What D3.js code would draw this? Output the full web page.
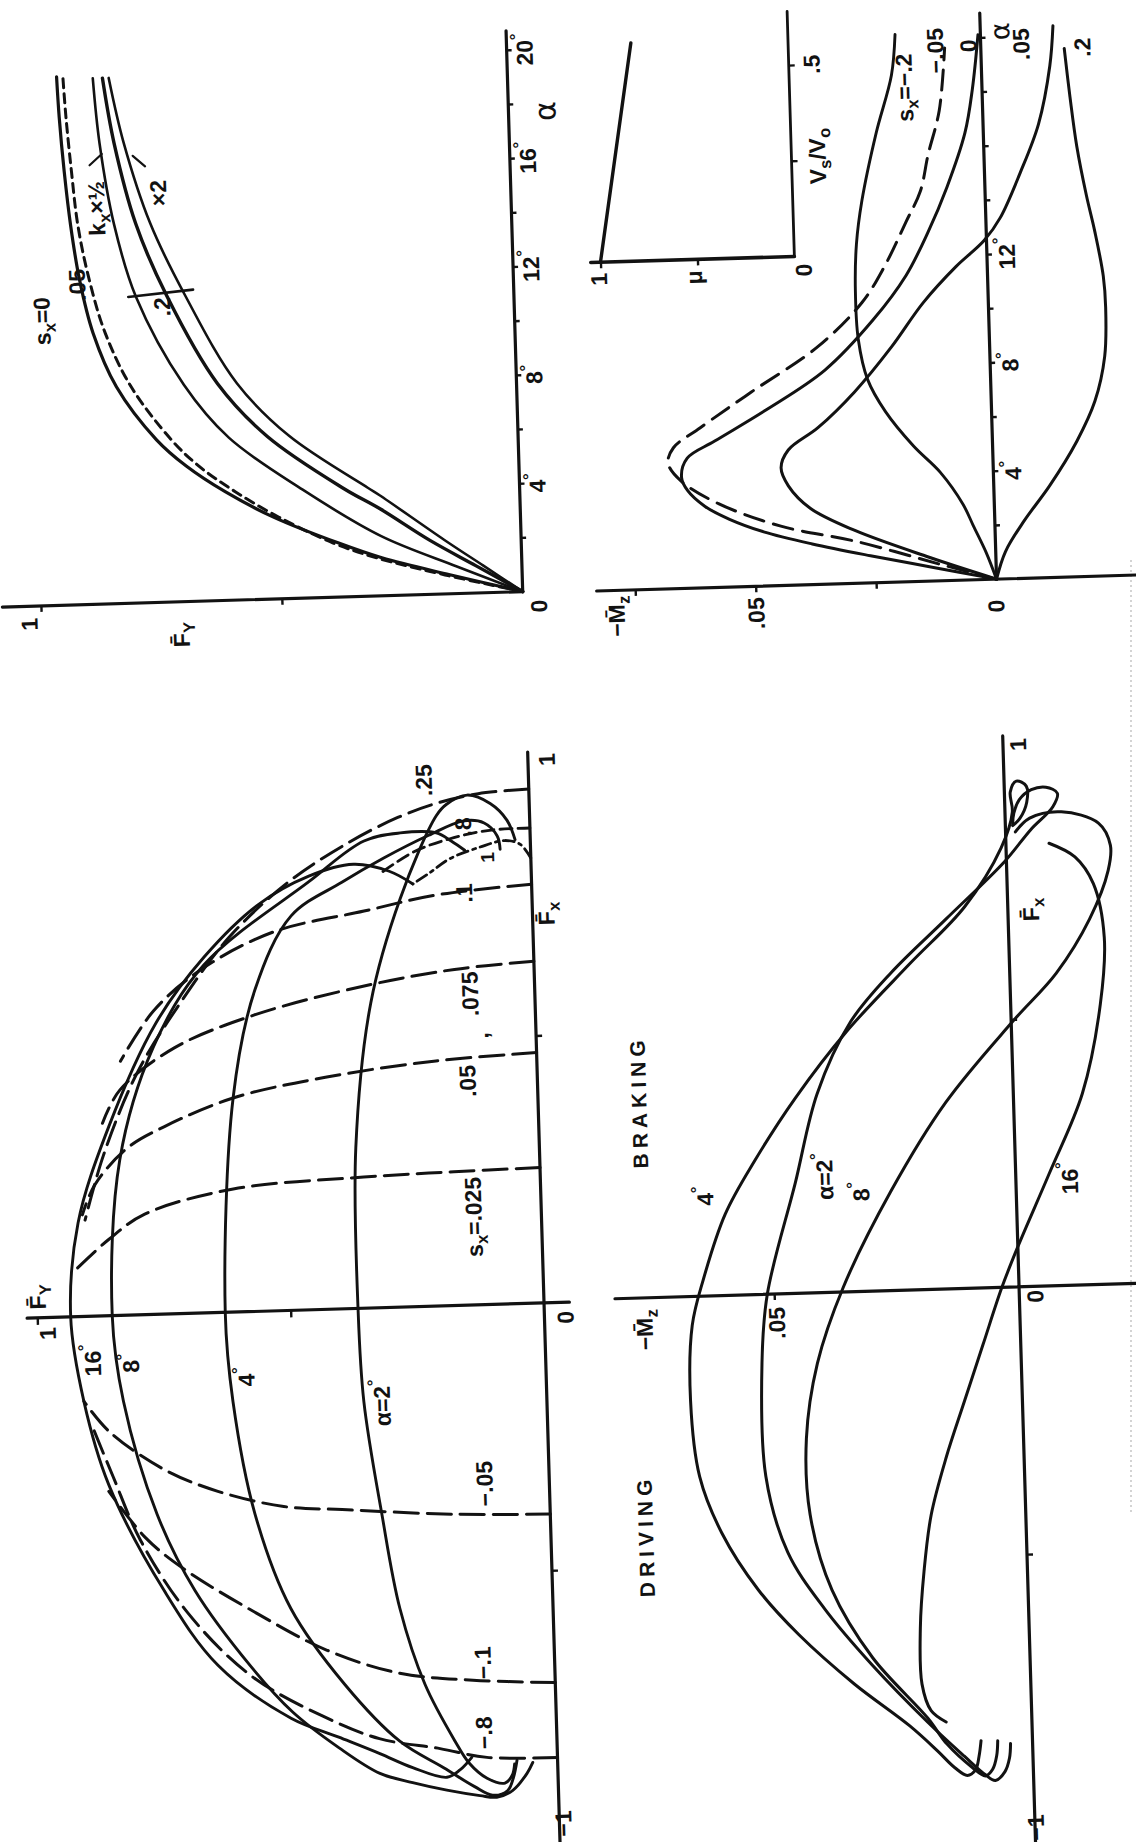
<!DOCTYPE html>
<html><head><meta charset="utf-8">
<script src="https://cdn.jsdelivr.net/npm/d3@7"></script>
<style>html,body{margin:0;padding:0;background:#fff}svg{display:block}</style>
</head><body>
<script>
// ===== Lateral force vs slip angle, pairs [alpha (deg), Fy] =====
const fyAlphaSx0   = [[0,0],[0.7,0.15],[1.4,0.29],[2,0.38],[3,0.51],[4,0.61],[5,0.69],[6,0.75],[8,0.83],[10,0.875],[12,0.9],[14,0.915],[16,0.925],[18,0.932],[19.5,0.935]];
const fyAlphaSx05  = [[0,0],[0.7,0.16],[1.4,0.3],[2,0.39],[3,0.5],[4,0.59],[5,0.665],[6,0.72],[8,0.8],[10,0.85],[12,0.88],[14,0.9],[16,0.91],[18,0.918],[19.5,0.922]];
const fyAlphaKxHalf= [[0,0],[1,0.135],[2.2,0.29],[4,0.45],[6,0.6],[8,0.69],[11.3,0.784],[14,0.825],[17,0.85],[19.4,0.86]];
const fyAlphaSx2   = [[0,0],[1,0.095],[2,0.19],[3.2,0.29],[4,0.365],[6,0.52],[8,0.62],[11.3,0.72],[14,0.78],[17,0.82],[19.4,0.84]];
const fyAlphaKx2   = [[0,0],[1,0.08],[2,0.16],[3.7,0.29],[4,0.315],[6,0.475],[8,0.58],[11.3,0.682],[14,0.75],[17,0.8],[19.4,0.827]];
const alphaTickLabels = [4, 8, 12, 16, 20];

// ===== Aligning torque vs slip angle, pairs [alpha (deg), -Mz] =====
const mzAlphaSxM2  = [[0,0],[1,0.002],[2,0.0045],[2.8,0.0065],[4,0.011],[5,0.0164],[6.3,0.022],[7.5,0.0255],[9,0.0272],[10.8,0.0275],[12.5,0.027],[14.1,0.0256],[16.6,0.0222],[18.7,0.0187],[20.2,0.0177]];
const mzAlphaSxM05 = [[0,0],[0.54,0.0103],[1.56,0.0292],[2.19,0.0444],[3.09,0.0572],[3.96,0.0648],[4.64,0.0674],[5.2,0.0662],[5.91,0.0605],[7.17,0.0497],[8.76,0.0357],[10.35,0.0262],[11.63,0.0214],[13.27,0.0166],[14.4,0.0134],[15.72,0.0116],[17.35,0.009],[19.65,0.0075]];
const mzAlphaSx0   = [[0,0],[0.5,0.013],[1,0.026],[1.5,0.038],[2,0.048],[2.5,0.055],[3,0.06],[3.6,0.0635],[4.1,0.0647],[4.8,0.0634],[5.4,0.0576],[6.5,0.0467],[7.9,0.0343],[9.7,0.024],[11.3,0.0169],[12.9,0.012],[14.5,0.0079],[16.5,0.0038],[18.1,0.002],[20.1,0.0005]];
const mzAlphaSx05  = [[0,0],[0.89,0.014],[1.96,0.0292],[2.82,0.0382],[3.67,0.0426],[4.34,0.044],[4.99,0.0424],[5.78,0.0361],[7.06,0.0283],[8.67,0.0204],[10.28,0.0135],[11.57,0.0065],[12.5,0.0005],[13.33,-0.003],[14.96,-0.0074],[16.74,-0.0115],[18.87,-0.0142],[20.35,-0.0151]];
const mzAlphaSx2   = [[0,0],[1,-0.002],[2.1,-0.006],[3.39,-0.0116],[5,-0.0175],[6.46,-0.0215],[8.1,-0.0238],[9.9,-0.0243],[11.06,-0.024],[12.73,-0.0225],[14.05,-0.021],[15.88,-0.0193],[17.7,-0.0182],[19.5,-0.0173]];
const mzAlphaTickLabels = [4, 8, 12];

// ===== Friction vs sliding speed, pairs [Vs/Vo, mu] =====
const muSlip = [[0,1.0],[0.57,0.81]];

// ===== Friction ellipse, pairs [Fx, Fy] =====
const ellAlpha16 = [[-0.845,0.169],[-0.868,0.193],[-0.881,0.219],[-0.861,0.286],[-0.833,0.35],[-0.8,0.43],[-0.762,0.523],[-0.659,0.664],[-0.516,0.766],[-0.315,0.869],[-0.158,0.913],[0,0.934],[0.175,0.914],[0.353,0.848],[0.544,0.749],[0.665,0.65],[0.76,0.54],[0.81,0.44],[0.83,0.35],[0.815,0.28],[0.79,0.234]];
const ellAlpha8  = [[-0.858,0.049],[-0.878,0.061],[-0.909,0.09],[-0.921,0.122],[-0.917,0.155],[-0.905,0.22],[-0.889,0.287],[-0.87,0.351],[-0.82,0.43],[-0.75,0.52],[-0.662,0.6],[-0.518,0.705],[-0.374,0.775],[-0.16,0.835],[0,0.852],[0.291,0.828],[0.498,0.756],[0.65,0.651],[0.80,0.439],[0.873,0.328],[0.886,0.256],[0.884,0.185],[0.868,0.156],[0.85,0.13]];
const ellAlpha4  = [[-0.853,0.08],[-0.885,0.088],[-0.909,0.1],[-0.917,0.13],[-0.9,0.165],[-0.863,0.225],[-0.811,0.31],[-0.702,0.415],[-0.557,0.517],[-0.379,0.582],[-0.167,0.619],[0,0.629],[0.4,0.601],[0.6,0.552],[0.737,0.476],[0.797,0.374],[0.84,0.29],[0.88,0.2],[0.905,0.13],[0.9,0.09],[0.875,0.065],[0.85,0.06]];
const ellAlpha2  = [[-0.86,0.085],[-0.88,0.09],[-0.895,0.105],[-0.885,0.14],[-0.855,0.175],[-0.814,0.201],[-0.706,0.257],[-0.563,0.302],[-0.386,0.332],[-0.174,0.361],[0,0.367],[0.3,0.362],[0.57,0.324],[0.763,0.26],[0.916,0.184],[0.937,0.163],[0.953,0.122],[0.936,0.077],[0.904,0.045],[0.867,0.03]];
const ellSx025  = [[0.253,0],[0.25,0.17],[0.245,0.348],[0.23,0.606],[0.188,0.782],[0.143,0.854],[0.083,0.927]];
const ellSx05   = [[0.468,0],[0.458,0.199],[0.434,0.415],[0.4,0.601],[0.35,0.739],[0.312,0.813],[0.245,0.879],[0.19,0.905]];
const ellSx075  = [[0.639,0],[0.628,0.157],[0.602,0.336],[0.554,0.554],[0.497,0.714],[0.421,0.824],[0.36,0.86]];
const ellSx1    = [[0.783,0],[0.768,0.189],[0.742,0.332],[0.708,0.512],[0.641,0.658],[0.567,0.753],[0.475,0.821]];
const ellSx25   = [[0.961,0],[0.955,0.1],[0.94,0.18],[0.915,0.26],[0.87,0.36],[0.8,0.48],[0.7,0.6],[0.58,0.7],[0.45,0.79],[0.3,0.86],[0.18,0.9]];
const ellSx8    = [[0.888,0],[0.886,0.08],[0.872,0.16],[0.85,0.23],[0.81,0.3]];
const ellSxLock = [[0.832,0],[0.858,0.02],[0.866,0.05],[0.855,0.1],[0.835,0.16],[0.81,0.2],[0.79,0.234]];
const ellSxM05  = [[-0.395,0],[-0.39,0.188],[-0.375,0.41],[-0.366,0.525],[-0.334,0.654],[-0.29,0.759],[-0.216,0.865],[-0.158,0.913]];
const ellSxM1   = [[-0.71,0],[-0.701,0.162],[-0.684,0.306],[-0.637,0.448],[-0.562,0.588],[-0.474,0.73],[-0.416,0.8],[-0.328,0.869]];
const ellSxM8   = [[-0.85,0],[-0.846,0.139],[-0.827,0.231],[-0.805,0.35],[-0.76,0.46],[-0.68,0.6],[-0.56,0.72],[-0.42,0.81],[-0.3,0.86],[-0.2,0.9]];

// ===== Aligning torque vs longitudinal force, pairs [Fx, -Mz] =====
const mzFxAlpha2  = [[-0.853,0.0045],[-0.88,0.0048],[-0.905,0.0058],[-0.921,0.0078],[-0.91,0.0098],[-0.874,0.014],[-0.808,0.0213],[-0.699,0.0322],[-0.591,0.0416],[-0.483,0.0488],[-0.34,0.0528],[-0.128,0.0529],[0,0.0514],[0.207,0.045],[0.3725,0.04],[0.504,0.0328],[0.594,0.0242],[0.691,0.0127],[0.796,0.0003],[0.853,-0.0051],[0.895,-0.0098],[0.92,-0.0108],[0.932,-0.0085],[0.928,-0.0055],[0.91,-0.003],[0.885,-0.0018],[0.865,-0.0015]];
const mzFxAlpha4  = [[-0.846,0.0105],[-0.875,0.011],[-0.9,0.0118],[-0.91,0.0135],[-0.895,0.016],[-0.862,0.0195],[-0.814,0.025],[-0.733,0.036],[-0.638,0.047],[-0.552,0.055],[-0.444,0.0621],[-0.337,0.0663],[-0.195,0.0677],[-0.054,0.0669],[0.03,0.0644],[0.152,0.0595],[0.251,0.0531],[0.365,0.0445],[0.487,0.0336],[0.609,0.0204],[0.713,0.0088],[0.821,0.001],[0.887,-0.0015],[0.925,-0.0012],[0.945,-0.0025],[0.935,-0.0045],[0.905,-0.0045],[0.875,-0.003],[0.862,-0.0015]];
const mzFxAlpha8  = [[-0.847,0.0071],[-0.875,0.0074],[-0.9,0.0083],[-0.912,0.0098],[-0.895,0.0125],[-0.85,0.0175],[-0.801,0.0212],[-0.685,0.0321],[-0.556,0.04],[-0.414,0.044],[-0.272,0.0443],[-0.132,0.0416],[0.008,0.0359],[0.185,0.0256],[0.349,0.0138],[0.495,-0.0002],[0.584,-0.0095],[0.683,-0.0166],[0.773,-0.0207],[0.82,-0.0213],[0.862,-0.019],[0.885,-0.0115],[0.875,-0.005],[0.85,-0.002]];
const mzFxAlpha16 = [[-0.809,0.0175],[-0.787,0.0205],[-0.737,0.0222],[-0.632,0.0222],[-0.526,0.0211],[-0.421,0.0193],[-0.315,0.0159],[-0.21,0.0118],[-0.106,0.0077],[0,0.0035],[0.075,0],[0.209,-0.0068],[0.358,-0.0141],[0.524,-0.0183],[0.648,-0.0195],[0.749,-0.0176],[0.8,-0.014],[0.827,-0.0088]];

// ===== drawing =====
const W = 1136, H = 1842;
const INK = '#121212';
const FS = 23;
const svg = d3.select('body').append('svg').attr('width', W).attr('height', H)
  .attr('viewBox', `0 0 ${W} ${H}`);
svg.append('rect').attr('width', W).attr('height', H).attr('fill', '#fff');
// faint edge of the printed sheet
svg.append('line').attr('x1', 1131).attr('y1', 560).attr('x2', 1131).attr('y2', 1515)
  .attr('stroke', '#c9c9c9').attr('stroke-width', 1.6).attr('stroke-dasharray', '2,3');
// the printed page sits slightly askew
const root = svg.append('g').attr('transform', 'rotate(-1.7,568,921)');

// scales (page is turned a quarter: data "x" runs up the page)
const aTL  = d3.scaleLinear().domain([0, 20]).range([590.4, 48.4]);
const fyTL = d3.scaleLinear().domain([0, 1]).range([532.5, 50.5]);
const aTR  = d3.scaleLinear().domain([0, 20]).range([592, 50]);
const mzTR = d3.scaleLinear().domain([0, 0.05]).range([1006.5, 765.5]);
const vsIn = d3.scaleLinear().domain([0, 0.5]).range([263.5, 72]);
const muIn = d3.scaleLinear().domain([0, 1]).range([814, 620]);
const fxBL = d3.scaleLinear().domain([-1, 1]).range([1837, 767]);
const fyBL = d3.scaleLinear().domain([0, 1]).range([532.7, 25.7]);
const fxBR = d3.scaleLinear().domain([-1, 1]).range([1835, 765]);
const mzBR = d3.scaleLinear().domain([0, 0.05]).range([1008, 763]);

function seg(x1, y1, x2, y2, w) {
  root.append('line').attr('x1', x1).attr('y1', y1).attr('x2', x2).attr('y2', y2)
    .attr('stroke', INK).attr('stroke-width', w || 3).attr('stroke-linecap', 'round');
}
function plot(data, xs, ys, xi, yi, opt) {
  opt = opt || {};
  const gen = d3.line().x(d => xs(d[xi])).y(d => ys(d[yi])).curve(d3.curveCatmullRom.alpha(0.5));
  root.append('path').attr('d', gen(data)).attr('fill', 'none').attr('stroke', INK)
    .attr('stroke-width', opt.w || 2.9).attr('stroke-linecap', 'round').attr('stroke-linejoin', 'round')
    .attr('stroke-dasharray', opt.dash || null);
}
// rotated label; parts: string or [text, 'sub'|'sup'|null]
function label(x, y, parts, opt) {
  opt = opt || {};
  const size = opt.size || FS;
  const t = root.append('text')
    .attr('transform', `translate(${x},${y}) rotate(${opt.rot === undefined ? -90 : opt.rot})`)
    .attr('text-anchor', opt.anchor || 'middle').attr('dominant-baseline', 'central')
    .attr('fill', INK)
    .style('font-family', opt.family || "'Liberation Sans', Arial, sans-serif")
    .style('font-weight', opt.weight || 'bold').style('font-size', size + 'px')
    .style('letter-spacing', (opt.ls || 0) + 'px');
  if (typeof parts === 'string') parts = [[parts]];
  let shift = 0;
  parts.forEach(p => {
    const sp = t.append('tspan').text(p[0]);
    let target = 0;
    if (p[1] === 'sub') { sp.style('font-size', (size * 0.72) + 'px'); target = size * 0.32; }
    if (p[1] === 'sup') { sp.style('font-size', (size * 0.72) + 'px'); target = -size * 0.38; }
    if (target - shift !== 0) sp.attr('dy', target - shift);
    shift = target;
  });
}
function ticks(axisFn, scale, values, len, tx, ty) {
  const g = root.append('g').attr('transform', `translate(${tx},${ty})`)
    .call(axisFn(scale).tickValues(values).tickSize(len).tickSizeOuter(0).tickFormat(''));
  g.select('.domain').remove();
  g.selectAll('.tick line').attr('stroke', INK).attr('stroke-width', 2.4);
}
const deg = n => [[String(n)], ['\u00b0', 'sup']];
const OVER = 'F\u0304';
const ALPHA = { size: 30, family: "'DejaVu Sans', sans-serif", weight: 'normal' };

// ---------- Fy vs alpha ----------
seg(fyTL(0), aTL(0), fyTL(0), aTL(20.7), 3.2);
seg(fyTL(1.08), aTL(0), fyTL(0), aTL(0), 3.2);
ticks(d3.axisRight, aTL, d3.range(2, 21, 2), 5, fyTL(0), 0);
ticks(d3.axisBottom, fyTL, [0.5, 1], 6, 0, aTL(0));
label(fyTL(0) + 16, aTL(0) + 15, '0');
alphaTickLabels.forEach(a => label(fyTL(0) + 18, aTL(a), deg(a)));
label(fyTL(0) + 36, aTL(17.7), '\u03b1', ALPHA);
label(fyTL(1) - 12, aTL(0) + 18, '1');
label(fyTL(0.71), aTL(0) + 33, [[OVER], ['Y', 'sub']]);
plot(fyAlphaSx0, fyTL, aTL, 1, 0, { w: 3.2 });
plot(fyAlphaSx05, fyTL, aTL, 1, 0, { w: 3, dash: '9,6' });
plot(fyAlphaKxHalf, fyTL, aTL, 1, 0, { w: 2.6 });
plot(fyAlphaSx2, fyTL, aTL, 1, 0, { w: 3.4 });
plot(fyAlphaKx2, fyTL, aTL, 1, 0, { w: 2.6 });
plot([[11.3, 0.8], [11.5, 0.665]], fyTL, aTL, 1, 0, { w: 2.6 });
plot([[16.2, 0.872], [16.6, 0.846]], fyTL, aTL, 1, 0, { w: 2.2 });
plot([[16.1, 0.757], [16.5, 0.782]], fyTL, aTL, 1, 0, { w: 2.2 });
label(fyTL(0.98), aTL(10.5), [['s'], ['x', 'sub'], ['=0']]);
label(fyTL(0.905), aTL(11.8), '.05');
label(fyTL(0.86), aTL(14.6), [['k'], ['x', 'sub'], ['\u00d7\u00bd']]);
label(fyTL(0.731), aTL(15.1), '\u00d72');
label(fyTL(0.73), aTL(10.9), '.2');

// ---------- -Mz vs alpha ----------
seg(mzTR(0), aTR(0), mzTR(0), aTR(20.9), 3.2);
seg(mzTR(0.083), aTR(0), mzTR(-0.03), aTR(0), 3.2);
ticks(d3.axisRight, aTR, d3.range(2, 21, 2), 5, mzTR(0), 0);
ticks(d3.axisBottom, mzTR, [0.025, 0.05, 0.075], 6, 0, aTR(0));
mzAlphaTickLabels.forEach(a => label(mzTR(0) + 20, aTR(a), deg(a)));
label(mzTR(0) + 19, aTR(20.2), '\u03b1', { ...ALPHA, size: 27 });
label(mzTR(0) - 1, aTR(0) + 27, '0');
label(mzTR(0.05), aTR(0) + 27, '.05');
label(mzTR(0.079), aTR(0) + 26, [['\u2212M\u0304'], ['z', 'sub']]);
plot(mzAlphaSxM2, mzTR, aTR, 1, 0, { w: 2.9 });
plot(mzAlphaSxM05, mzTR, aTR, 1, 0, { w: 3, dash: '20,10' });
plot(mzAlphaSx0, mzTR, aTR, 1, 0, { w: 3 });
plot(mzAlphaSx05, mzTR, aTR, 1, 0, { w: 3 });
plot(mzAlphaSx2, mzTR, aTR, 1, 0, { w: 3 });
label(929, 98, [['s'], ['x', 'sub'], ['=\u2212.2']]);
label(961, 62, '\u2212.05');
label(994, 58, '0');
label(1047, 58, '.05');
label(1108, 63, '.2');

// ---------- friction vs sliding speed ----------
seg(muIn(0), vsIn(0), muIn(0), vsIn(0.64), 2.8);
seg(muIn(0), vsIn(0), muIn(1.05), vsIn(0), 3.6);
ticks(d3.axisRight, vsIn, [0.25, 0.5], 6, muIn(0), 0);
ticks(d3.axisBottom, muIn, [0.5, 1], 6, 0, vsIn(0));
plot(muSlip, muIn, vsIn, 1, 0, { w: 3.4 });
label(muIn(0) + 9, vsIn(0) + 14, '0');
label(muIn(1) - 2, vsIn(0) + 17, '1');
label(muIn(0.52), vsIn(0) + 18, '\u03bc');
label(muIn(0) + 23, vsIn(0.5), '.5');
label(muIn(0) + 26, vsIn(0.26), [['V'], ['s', 'sub'], ['/V'], ['o', 'sub']]);

// ---------- friction ellipse ----------
seg(fyBL(0), fxBL(1.03), fyBL(0), fxBL(-1.03), 3.2);
seg(fyBL(1.02), fxBL(0), fyBL(-0.05), fxBL(0), 3.2);
ticks(d3.axisRight, fxBL, [-0.5, 0.5], 6, fyBL(0), 0);
ticks(d3.axisBottom, fyBL, [0.5, 1], 7, 0, fxBL(0));
label(fyBL(0) + 19, fxBL(1) - 8, '1');
label(fyBL(0) + 21, fxBL(0) + 15, '0');
label(fyBL(0) + 4, fxBL(-1) - 14, '\u22121');
label(fyBL(0) + 14, fxBL(0.727), [[OVER], ['x', 'sub']]);
label(fyBL(1) + 1, fxBL(0) - 21, [[OVER], ['Y', 'sub']]);
label(fyBL(1) + 10, fxBL(0) + 16, '1');
[ellAlpha16, ellAlpha8, ellAlpha4, ellAlpha2].forEach(d => plot(d, fyBL, fxBL, 1, 0, { w: 2.9 }));
const DASH = '24,9';
[ellSx025, ellSx05, ellSx075, ellSx1, ellSx25, ellSxM05, ellSxM1, ellSxM8].forEach(d => plot(d, fyBL, fxBL, 1, 0, { w: 3, dash: DASH }));
plot(ellSx8, fyBL, fxBL, 1, 0, { w: 2.8, dash: '12,6' });
plot(ellSxLock, fyBL, fxBL, 1, 0, { w: 2.8, dash: '11,5,3,5' });
label(80, 1346, deg(16));
label(118, 1350, deg(8));
label(233, 1367, deg(4));
label(368, 1397, [['\u03b1=2'], ['\u00b0', 'sup']]);
label(465, 1214, [['s'], ['x', 'sub'], ['=.025']]);
label(463, 1078, '.05');
label(477, 1033, ',');
label(468, 991, '.075');
label(465, 890, '.1');
label(489, 855, '1', { size: 19 });
label(466, 824, '.8');
label(428, 776, '.25');
label(468, 1481, '\u2212.05');
label(461, 1660, '\u2212.1');
label(460, 1730, '\u2212.8');

// ---------- -Mz vs Fx ----------
seg(mzBR(0), fxBR(1.03), mzBR(0), fxBR(-1.06), 3.2);
seg(mzBR(0.0825), fxBR(0), mzBR(-0.03), fxBR(0), 3.2);
ticks(d3.axisRight, fxBR, [-0.5, 0.5], 6, mzBR(0), 0);
ticks(d3.axisBottom, mzBR, [0.05], 6, 0, fxBR(0));
label(mzBR(0) + 15, fxBR(1) - 7, '1');
label(mzBR(0) + 16, fxBR(0) + 10, '0');
label(mzBR(0) + 1, fxBR(-1) + 6, '\u22121');
label(mzBR(0) + 23, fxBR(0.704), [[OVER], ['x', 'sub']]);
label(mzBR(0.05) + 2, fxBR(0) + 29, '.05');
label(mzBR(0.0766), fxBR(0) + 32, [['\u2212M\u0304'], ['z', 'sub']]);
[mzFxAlpha2, mzFxAlpha4, mzFxAlpha8, mzFxAlpha16].forEach(d => plot(d, mzBR, fxBR, 1, 0, { w: 3 }));
label(697, 1200, deg(4));
label(817, 1184, [['\u03b1=2'], ['\u00b0', 'sup']]);
label(853, 1200, deg(8));
label(1062, 1193, deg(16));
label(633, 1104, 'BRAKING', { size: 21, ls: 5 });
label(627, 1538, 'DRIVING', { size: 21, ls: 5 });
</script>
</body></html>
